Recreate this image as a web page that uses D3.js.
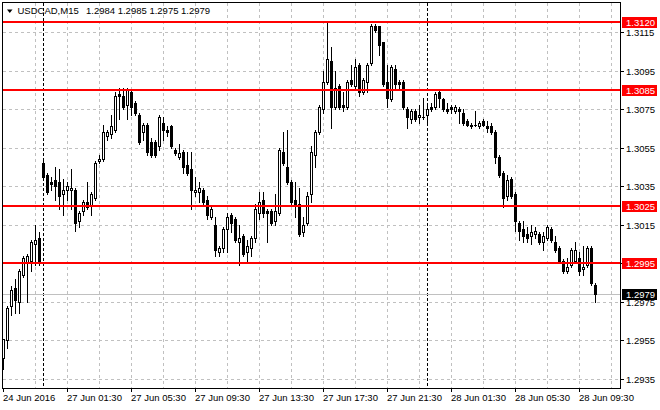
<!DOCTYPE html>
<html><head><meta charset="utf-8">
<script src="https://cdn.jsdelivr.net/npm/d3@7"></script>
<style>html,body{margin:0;padding:0;background:#fff;overflow:hidden}svg{display:block}</style>
</head><body><svg id="c" width="660" height="410"></svg>
<script>
// ---- data (USDCAD M15, bars from 24 Jun 2016 21:30 to 28 Jun 2016 10:30) ----
const symbol = "USDCAD,M15";
const lastQuote = ["1.2984", "1.2985", "1.2975", "1.2979"];
const firstBarOffset = -10; // bar index of first bar relative to 27 Jun 00:00
const opens = [
1.2946,1.2955,1.2973,1.2982,1.2975,1.2989,1.2995,1.2996,1.3005,1.3008,
1.3047,1.3041,1.3037,1.3038,1.3037,1.3031,1.3033,1.3033,1.3033,1.3017,
1.3022,1.3027,1.3025,1.3029,1.3048,1.3049,1.3061,1.3062,1.3064,1.3083,
1.3082,1.3077,1.3084,1.3078,1.3072,1.3063,1.3067,1.3058,1.3058,1.3056,
1.3068,1.3064,1.3066,1.3054,1.3050,1.3053,1.3046,1.3044,1.3032,1.3032,
1.3033,1.3028,1.3019,1.3015,1.3001,1.3003,1.3013,1.3020,1.3018,1.3006,
1.3009,1.3001,1.3003,1.3008,1.3021,1.3028,1.3022,1.3022,1.3017,1.3021,
1.3053,1.3045,1.3037,1.3028,1.3026,1.3011,1.3016,1.3031,1.3051,1.3063,
1.3075,1.3089,1.3100,1.3076,1.3087,1.3077,1.3076,1.3090,1.3087,1.3098,
1.3084,1.3089,1.3099,1.3118,1.3118,1.3110,1.3089,1.3080,1.3096,1.3089,
1.3089,1.3075,1.3070,1.3074,1.3071,1.3071,1.3072,1.3076,1.3076,1.3084,
1.3080,1.3075,1.3076,1.3074,1.3075,1.3073,1.3069,1.3067,1.3067,1.3066,
1.3069,1.3066,1.3066,1.3063,1.3050,1.3042,1.3030,1.3039,1.3031,1.3016,
1.3013,1.3010,1.3009,1.3010,1.3010,1.3006,1.3008,1.3013,1.3006,1.3003,
1.2996,1.2991,1.2994,1.2996,1.2998,1.2992,1.2994,1.3003,1.2984];
const highs = [
1.2956,1.2973,1.2983,1.2987,1.2992,1.2999,1.3000,1.3007,1.3015,1.3011,
1.3048,1.3042,1.3040,1.3045,1.3044,1.3039,1.3037,1.3044,1.3034,1.3022,
1.3028,1.3037,1.3032,1.3048,1.3051,1.3067,1.3064,1.3072,1.3084,1.3086,
1.3086,1.3086,1.3085,1.3079,1.3073,1.3068,1.3068,1.3060,1.3059,1.3072,
1.3071,1.3066,1.3067,1.3055,1.3057,1.3054,1.3053,1.3053,1.3040,1.3037,
1.3034,1.3030,1.3024,1.3019,1.3004,1.3014,1.3021,1.3021,1.3019,1.3015,
1.3010,1.3007,1.3009,1.3026,1.3032,1.3032,1.3023,1.3023,1.3031,1.3055,
1.3063,1.3064,1.3038,1.3037,1.3034,1.3019,1.3032,1.3056,1.3064,1.3077,
1.3095,1.3120,1.3107,1.3095,1.3088,1.3084,1.3090,1.3098,1.3101,1.3099,
1.3091,1.3099,1.3119,1.3119,1.3118,1.3110,1.3098,1.3098,1.3098,1.3090,
1.3090,1.3076,1.3075,1.3075,1.3077,1.3081,1.3077,1.3078,1.3084,1.3085,
1.3081,1.3078,1.3077,1.3077,1.3076,1.3075,1.3070,1.3068,1.3074,1.3069,
1.3070,1.3069,1.3068,1.3064,1.3051,1.3043,1.3041,1.3040,1.3032,1.3017,
1.3017,1.3014,1.3015,1.3014,1.3011,1.3011,1.3015,1.3014,1.3009,1.3004,
1.2997,1.2998,1.3003,1.3006,1.3001,1.3004,1.3004,1.3004,1.2985];
const lows = [
1.2940,1.2951,1.2968,1.2969,1.2969,1.2988,1.2975,1.2991,1.2994,1.2994,
1.3039,1.3031,1.3033,1.3028,1.3023,1.3020,1.3028,1.3023,1.3012,1.3014,
1.3020,1.3023,1.3020,1.3028,1.3047,1.3048,1.3059,1.3060,1.3063,1.3070,
1.3075,1.3070,1.3072,1.3072,1.3057,1.3059,1.3051,1.3050,1.3050,1.3054,
1.3059,1.3061,1.3055,1.3051,1.3049,1.3042,1.3041,1.3023,1.3030,1.3027,
1.3026,1.3018,1.3018,1.2999,1.2999,1.3001,1.3001,1.3011,1.3006,1.2994,
1.2999,1.2996,1.2999,1.3006,1.3018,1.3019,1.3006,1.3015,1.3015,1.3020,
1.3046,1.3036,1.3026,1.3019,1.3009,1.3009,1.3015,1.3027,1.3045,1.3062,
1.3073,1.3088,1.3065,1.3075,1.3075,1.3074,1.3075,1.3087,1.3086,1.3082,
1.3083,1.3084,1.3098,1.3115,1.3103,1.3087,1.3076,1.3079,1.3086,1.3086,
1.3075,1.3065,1.3068,1.3069,1.3068,1.3070,1.3067,1.3074,1.3075,1.3076,
1.3074,1.3073,1.3073,1.3073,1.3068,1.3067,1.3066,1.3065,1.3066,1.3065,
1.3066,1.3063,1.3062,1.3047,1.3040,1.3024,1.3028,1.3029,1.3012,1.3007,
1.3006,1.3006,1.3005,1.3008,1.3005,1.3002,1.3007,1.3006,1.3001,1.2995,
1.2990,1.2990,1.2993,1.2995,1.2989,1.2989,1.2993,1.2984,1.2975];
const closes = [
1.2956,1.2972,1.2981,1.2976,1.2991,1.2998,1.2999,1.3006,1.3007,1.2995,
1.3040,1.3032,1.3036,1.3035,1.3030,1.3033,1.3035,1.3034,1.3016,1.3021,
1.3027,1.3024,1.3031,1.3047,1.3049,1.3063,1.3063,1.3066,1.3082,1.3082,
1.3076,1.3085,1.3076,1.3073,1.3058,1.3067,1.3053,1.3051,1.3051,1.3071,
1.3064,1.3063,1.3056,1.3052,1.3052,1.3045,1.3042,1.3033,1.3033,1.3034,
1.3027,1.3020,1.3023,1.3002,1.3003,1.3013,1.3019,1.3016,1.3007,1.3008,
1.3000,1.3004,1.3008,1.3023,1.3027,1.3021,1.3021,1.3016,1.3022,1.3054,
1.3047,1.3037,1.3027,1.3026,1.3010,1.3015,1.3030,1.3053,1.3063,1.3076,
1.3089,1.3101,1.3076,1.3086,1.3076,1.3076,1.3089,1.3088,1.3097,1.3084,
1.3090,1.3098,1.3118,1.3116,1.3108,1.3088,1.3081,1.3097,1.3088,1.3088,
1.3076,1.3071,1.3074,1.3070,1.3072,1.3071,1.3075,1.3075,1.3083,1.3081,
1.3075,1.3074,1.3075,1.3076,1.3074,1.3068,1.3067,1.3066,1.3067,1.3068,
1.3067,1.3065,1.3063,1.3050,1.3041,1.3029,1.3038,1.3030,1.3017,1.3012,
1.3009,1.3008,1.3011,1.3012,1.3006,1.3009,1.3014,1.3007,1.3002,1.2996,
1.2991,1.2993,1.3002,1.3002,1.2991,1.2993,1.3003,1.2985,1.2979];
const levels = [1.3120, 1.3085, 1.3025, 1.2995];
const bid = 1.2979;
const yTicks = [1.2935, 1.2955, 1.2975, 1.2995, 1.3015, 1.3035, 1.3055, 1.3075, 1.3095, 1.3115];
const xTickBars = [-10, 6, 22, 38, 54, 70, 86, 102, 118, 134];
const xTickLabels = ["24 Jun 2016", "27 Jun 01:30", "27 Jun 05:30", "27 Jun 09:30", "27 Jun 13:30",
  "27 Jun 17:30", "27 Jun 21:30", "28 Jun 01:30", "28 Jun 05:30", "28 Jun 09:30"];
const daySeparatorBars = [0, 96];
const gridBars = [-2, 6, 14, 22, 30, 38, 46, 54, 62, 70, 78, 86, 94, 102, 110, 118, 126, 134, 142];

// ---- chart ----
const svg = d3.select("#c");
const FONT = "'Liberation Sans', Arial, sans-serif";
const L = 2, T = 2, R = 620, B = 388;
const x = d3.scaleLinear().domain([-10, 144]).range([3, 619]);
const y = d3.scaleLinear().domain([1.2935, 1.3115]).range([379, 32]);
const py = v => Math.round(y(v));
const px = k => Math.round(x(k));

const bars = opens.map((o, i) => ({k: i + firstBarOffset, o, h: highs[i], l: lows[i], c: closes[i]}));

svg.append("rect").attr("width", 660).attr("height", 410).attr("fill", "#fff");

const plot = svg.append("g").attr("shape-rendering", "crispEdges");
// grid
plot.selectAll(".hg").data(yTicks).join("line")
  .attr("x1", L + 1).attr("x2", R).attr("y1", d => py(d) + 0.5).attr("y2", d => py(d) + 0.5)
  .attr("stroke", "#c0c0c0").attr("stroke-dasharray", "3,3");
plot.selectAll(".vg").data(gridBars).join("line")
  .attr("x1", d => px(d) + 0.5).attr("x2", d => px(d) + 0.5).attr("y1", T + 1).attr("y2", B)
  .attr("stroke", "#c0c0c0").attr("stroke-dasharray", "3,3");
// day separators
plot.selectAll(".ds").data(daySeparatorBars).join("line")
  .attr("x1", d => px(d) + 0.5).attr("x2", d => px(d) + 0.5).attr("y1", T + 1).attr("y2", B)
  .attr("stroke", "#000").attr("stroke-dasharray", "3,2");
// bid line
plot.append("line").attr("x1", L + 1).attr("x2", R).attr("y1", py(bid) + 0.5).attr("y2", py(bid) + 0.5)
  .attr("stroke", "#c0c0c0");

// candles
const cg = plot.append("g");
bars.forEach(b => {
  const cx = px(b.k);
  const yh = py(b.h), yl = py(b.l);
  const top = py(Math.max(b.o, b.c)), bot = py(Math.min(b.o, b.c));
  cg.append("rect").attr("x", cx).attr("y", yh).attr("width", 1).attr("height", Math.max(1, yl - yh + 1)).attr("fill", "#000");
  if (b.c > b.o && bot - top >= 2) {
    cg.append("rect").attr("x", cx - 0.5).attr("y", top + 0.5).attr("width", 2).attr("height", bot - top)
      .attr("fill", "#fff").attr("stroke", "#000").attr("stroke-width", 1);
  } else {
    cg.append("rect").attr("x", cx - 1).attr("y", top).attr("width", 3).attr("height", Math.max(1, bot - top + 1)).attr("fill", "#000");
  }
});

// level lines
plot.selectAll(".lv").data(levels).join("rect")
  .attr("x", L + 1).attr("width", R - L - 1).attr("y", d => py(d) - 1).attr("height", 2).attr("fill", "#ff0000");

// frame
plot.append("rect").attr("x", L + 0.5).attr("y", T + 0.5).attr("width", R - L).attr("height", B - T)
  .attr("fill", "none").attr("stroke", "#000");

// y axis ticks + labels
const ya = svg.append("g");
ya.selectAll("line").data(yTicks).join("line").attr("shape-rendering", "crispEdges")
  .attr("x1", R).attr("x2", R + 4).attr("y1", d => py(d) + 0.5).attr("y2", d => py(d) + 0.5).attr("stroke", "#000");
ya.selectAll("text").data(yTicks).join("text")
  .attr("x", R + 6).attr("y", d => py(d) + 4)
  .attr("font-family", FONT).attr("font-size", 9.5).attr("fill", "#000")
  .text(d => d3.format(".4f")(d));

// price tags
function tag(v, color) {
  const yy = py(v);
  svg.append("rect").attr("shape-rendering", "crispEdges")
    .attr("x", R + 2).attr("y", yy - 5).attr("width", 35).attr("height", 11).attr("fill", color);
  svg.append("text").attr("x", R + 6).attr("y", yy + 4)
    .attr("font-family", FONT).attr("font-size", 9.5).attr("fill", "#fff")
    .text(d3.format(".4f")(v));
}
levels.forEach(v => tag(v, "#ff0000"));
tag(bid, "#000");

// x axis ticks + labels
const xa = svg.append("g");
xa.selectAll("line").data(xTickBars).join("line").attr("shape-rendering", "crispEdges")
  .attr("x1", d => px(d) + 0.5).attr("x2", d => px(d) + 0.5).attr("y1", B).attr("y2", B + 4).attr("stroke", "#000");
xa.selectAll("text").data(xTickBars).join("text")
  .attr("x", d => px(d)).attr("y", 401)
  .attr("font-family", FONT).attr("font-size", 9.5).attr("fill", "#000")
  .text((d, i) => xTickLabels[i]);

// header
svg.append("path").attr("d", "M7,9.5 L12.5,9.5 L9.75,13 Z").attr("fill", "#000");
svg.append("text").attr("x", 17.5).attr("y", 14)
  .attr("font-family", FONT).attr("font-size", 9.5).attr("fill", "#000")
  .text(symbol);
svg.append("text").attr("x", 86).attr("y", 14)
  .attr("font-family", FONT).attr("font-size", 9.5).attr("fill", "#000")
  .text(lastQuote.join(" "));
</script></body></html>
